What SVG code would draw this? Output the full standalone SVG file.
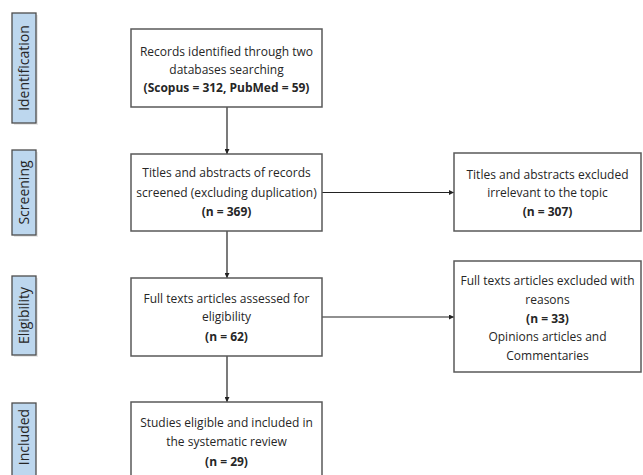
<svg xmlns="http://www.w3.org/2000/svg" width="643" height="475" viewBox="0 0 643 475">
<defs>
<style>
.box{fill:#fff;stroke:#595959;stroke-width:1.5}
.phase{fill:#bdd7ee;stroke:#4d4d4d;stroke-width:1.3}
.sh{fill:#d9d9d9;opacity:0.6}
text{font-family:"Open Sans","Liberation Sans",sans-serif;font-size:12px;fill:#262626;text-anchor:middle}
.b{font-weight:bold}
.ph{font-size:14px}
.con{stroke:#222;stroke-width:1.2;fill:none;marker-end:url(#ah)}
</style>
<marker id="ah" viewBox="0 0 6 6" refX="6" refY="3" markerWidth="5" markerHeight="5" orient="auto" markerUnits="userSpaceOnUse">
<path d="M0,0 L6,3 L0,6 z" fill="#222"/>
</marker>
</defs>
<rect width="643" height="475" fill="#fff"/>
<g id="phase-identification">
<rect class="sh" x="14" y="15" width="24" height="110"/>
<rect class="phase" x="12" y="13" width="24" height="110"/>
<text class="ph" transform="translate(29,68) rotate(-90)">Identification</text>
</g>
<g id="phase-screening">
<rect class="sh" x="14" y="152" width="24" height="85"/>
<rect class="phase" x="12" y="150" width="24" height="85"/>
<text class="ph" transform="translate(29,192.5) rotate(-90)">Screening</text>
</g>
<g id="phase-eligibility">
<rect class="sh" x="14" y="278" width="24" height="79"/>
<rect class="phase" x="12" y="276" width="24" height="79"/>
<text class="ph" transform="translate(29,315.5) rotate(-90)">Eligibility</text>
</g>
<g id="phase-included">
<rect class="phase" x="12" y="403" width="24" height="80"/>
<text class="ph" transform="translate(29,437) rotate(-90)">Included</text>
</g>
<g id="connectors">
<line class="con" x1="227" y1="107" x2="227" y2="154"/>
<line class="con" x1="227" y1="231" x2="227" y2="278"/>
<line class="con" x1="227" y1="356" x2="227" y2="402"/>
<line class="con" x1="322" y1="192.5" x2="454" y2="192.5"/>
<line class="con" x1="322" y1="317" x2="454" y2="317"/>
</g>
<g id="records">
<rect class="box" x="131" y="29" width="191" height="78"/>
<text x="226.5" y="56">Records identified through two</text>
<text x="226.5" y="74">databases searching</text>
<text class="b" x="226.5" y="92">(Scopus = 312, PubMed = 59)</text>
</g>
<g id="screened">
<rect class="box" x="131" y="154" width="191" height="77"/>
<text x="226.5" y="177">Titles and abstracts of records</text>
<text x="226.5" y="197">screened (excluding duplication)</text>
<text class="b" x="226.5" y="216">(n = 369)</text>
</g>
<g id="eligibility">
<rect class="box" x="131" y="278" width="191" height="78"/>
<text x="226.5" y="303">Full texts articles assessed for</text>
<text x="226.5" y="321">eligibility</text>
<text class="b" x="226.5" y="341">(n = 62)</text>
</g>
<g id="included">
<rect class="box" x="131" y="402" width="191" height="80"/>
<text x="226.5" y="427">Studies eligible and included in</text>
<text x="226.5" y="446">the systematic review</text>
<text class="b" x="226.5" y="466">(n = 29)</text>
</g>
<g id="excluded-screening">
<rect class="box" x="454" y="153" width="187" height="78"/>
<text x="547.5" y="179">Titles and abstracts excluded</text>
<text x="547.5" y="197">irrelevant to the topic</text>
<text class="b" x="547.5" y="216">(n = 307)</text>
</g>
<g id="excluded-eligibility">
<rect class="box" x="454" y="261" width="187" height="111"/>
<text x="547.5" y="285">Full texts articles excluded with</text>
<text x="547.5" y="304">reasons</text>
<text class="b" x="547.5" y="323">(n = 33)</text>
<text x="547.5" y="341">Opinions articles and</text>
<text x="547.5" y="360">Commentaries</text>
</g>
</svg>
